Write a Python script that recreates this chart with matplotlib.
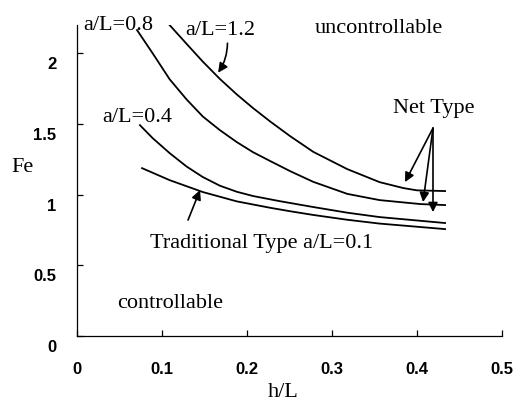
import matplotlib.pyplot as plt
from matplotlib.transforms import ScaledTranslation

# curves: Fe against h/L
hl_12 = [0.109, 0.129, 0.148, 0.168, 0.188, 0.207, 0.227, 0.251, 0.278, 0.318, 0.356, 0.384, 0.400, 0.433]
fe_12 = [2.198, 2.065, 1.940, 1.818, 1.708, 1.612, 1.518, 1.412, 1.302, 1.180, 1.088, 1.046, 1.030, 1.025]

hl_08 = [0.0706, 0.0894, 0.109, 0.129, 0.148, 0.168, 0.188, 0.207, 0.227, 0.251, 0.278, 0.318, 0.356, 0.404, 0.433]
fe_08 = [2.163, 1.995, 1.815, 1.672, 1.552, 1.456, 1.371, 1.300, 1.238, 1.165, 1.090, 1.005, 0.961, 0.933, 0.926]

hl_04 = [0.074, 0.089, 0.109, 0.129, 0.148, 0.168, 0.188, 0.207, 0.239, 0.278, 0.318, 0.356, 0.433]
fe_04 = [1.491, 1.399, 1.293, 1.198, 1.124, 1.063, 1.020, 0.990, 0.953, 0.912, 0.872, 0.841, 0.799]

hl_trad = [0.0765, 0.109, 0.148, 0.188, 0.227, 0.251, 0.278, 0.318, 0.356, 0.433]
fe_trad = [1.187, 1.102, 1.018, 0.952, 0.907, 0.882, 0.856, 0.822, 0.795, 0.756]

xticks = [0, 0.1, 0.2, 0.3, 0.4, 0.5]
xticklabels = ['0', '0.1', '0.2', '0.3', '0.4', '0.5']
yticks = [0, 0.5, 1, 1.5, 2]
yticklabels = ['0', '0.5', '1', '1.5', '2']

serif = 'Liberation Serif'
sans = 'Liberation Sans'

fig = plt.figure(figsize=(5.17, 4.01), dpi=100)
ax = fig.add_axes([0.149, 0.162, 0.822, 0.776])

for hx, fy in [(hl_12, fe_12), (hl_08, fe_08), (hl_04, fe_04), (hl_trad, fe_trad)]:
    ax.plot(hx, fy, color='black', lw=1.3)

ax.set_xlim(0, 0.5)
ax.set_ylim(0, 2.2)
ax.spines['top'].set_visible(False)
ax.spines['right'].set_visible(False)
for s in ['left', 'bottom']:
    ax.spines[s].set_linewidth(0.9)

ax.set_xticks(xticks)
ax.set_xticklabels(xticklabels, fontfamily=sans, fontsize=12, fontweight='bold')
ax.set_yticks(yticks)
ax.set_yticklabels(yticklabels, fontfamily=sans, fontsize=12, fontweight='bold')
ax.tick_params(axis='x', direction='in', length=4, width=0.9, pad=19)
ax.tick_params(axis='y', direction='in', length=4, width=0.9, pad=15)

# y labels sit a little below their ticks
shift = ScaledTranslation(0, -0.10, fig.dpi_scale_trans)
for lab in ax.get_yticklabels():
    lab.set_transform(lab.get_transform() + shift)

ax.set_xlabel('h/L', fontfamily=serif, fontsize=16, va='center')
ax.xaxis.set_label_coords(0.485, -0.18)
ax.set_ylabel('Fe', fontfamily=serif, fontsize=16, rotation=0, va='center', ha='center')
ax.yaxis.set_label_coords(-0.129, 0.543)

txt = dict(fontfamily=serif, fontsize=16, ha='center', va='center')
ax.text(0.048, 2.198, 'a/L=0.8', **txt)
ax.text(0.168, 2.163, 'a/L=1.2', **txt)
ax.text(0.0706, 1.548, 'a/L=0.4', **txt)
ax.text(0.355, 2.177, 'uncontrollable', **txt)
ax.text(0.109, 0.233, 'controllable', **txt)
ax.text(0.2176, 0.657, 'Traditional Type a/L=0.1', **txt)

arrow = dict(arrowstyle='-|>', color='black', lw=1.2, mutation_scale=14, shrinkA=0, shrinkB=0)
ax.annotate('', xy=(0.166, 1.862), xytext=(0.177, 2.070),
            arrowprops=dict(arrow, connectionstyle='arc3,rad=-0.15'))
ax.annotate('', xy=(0.1447, 1.032), xytext=(0.1306, 0.82), arrowprops=arrow)

# net type labels share one tail point
ax.text(0.42, 1.611, 'Net Type', **txt)
tail = (0.4188, 1.47)
for tip in [(0.3859, 1.088), (0.4071, 0.947), (0.4188, 0.876)]:
    ax.annotate('', xy=tip, xytext=tail, arrowprops=arrow)

fig.savefig('out.png', dpi=100)
